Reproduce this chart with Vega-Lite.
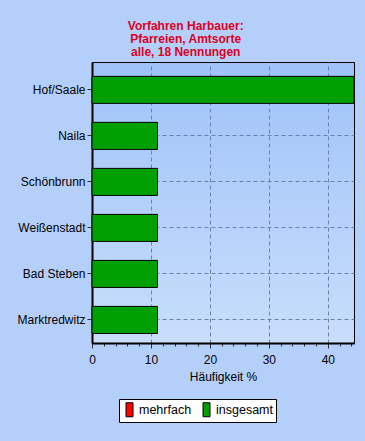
{
  "$schema": "https://vega.github.io/schema/vega-lite/v6.json",
  "width": 262,
  "height": 281,
  "autosize": {"type": "none"},
  "padding": {"left": 92, "top": 62, "right": 11, "bottom": 98},
  "background": "#b4d0fa",
  "view": {
    "stroke": "black",
    "strokeWidth": 1,
    "fill": {
      "gradient": "linear", "x1": 0, "y1": 0, "x2": 0, "y2": 1,
      "stops": [{"offset": 0, "color": "#9fc2f9"}, {"offset": 1, "color": "#c8defb"}]
    }
  },
  "title": {
    "text": ["Vorfahren Harbauer:", "Pfarreien, Amtsorte", "alle, 18 Nennungen"],
    "color": "#dd0022",
    "font": "Liberation Sans",
    "fontSize": 12,
    "fontWeight": "bold",
    "lineHeight": 13,
    "offset": 3,
    "anchor": "middle",
    "frame": "bounds"
  },
  "data": {
    "values": [
      {"ort": "Hof/Saale", "pct": 44.44, "serie": "insgesamt"},
      {"ort": "Naila", "pct": 11.11, "serie": "insgesamt"},
      {"ort": "Schönbrunn", "pct": 11.11, "serie": "insgesamt"},
      {"ort": "Weißenstadt", "pct": 11.11, "serie": "insgesamt"},
      {"ort": "Bad Steben", "pct": 11.11, "serie": "insgesamt"},
      {"ort": "Marktredwitz", "pct": 11.11, "serie": "insgesamt"}
    ]
  },
  "mark": {"type": "bar", "stroke": "black", "strokeWidth": 1},
  "encoding": {
    "y": {
      "field": "ort",
      "type": "nominal",
      "sort": null,
      "scale": {"paddingInner": 0.413, "paddingOuter": 0.26, "align": 0.6},
      "axis": {
        "title": null,
        "labelFont": "Liberation Sans",
        "labelFontSize": 12,
        "labelColor": "black",
        "labelPadding": 2,
        "tickSize": 5,
        "tickColor": "#333333",
        "domainColor": "black",
        "domainWidth": 2,
        "grid": true,
        "gridColor": "#6a80b0",
        "gridDash": [4, 3],
        "gridWidth": 1,
        "bandPosition": 0.5
      }
    },
    "x": {
      "field": "pct",
      "type": "quantitative",
      "scale": {"domain": [0, 44.44], "nice": false},
      "axis": {
        "title": "Häufigkeit %",
        "titleFont": "Liberation Sans",
        "titleFontSize": 12,
        "titleFontWeight": "normal",
        "titleColor": "black",
        "titlePadding": 6,
        "values": [0, 2, 4, 6, 8, 10, 12, 14, 16, 18, 20, 22, 24, 26, 28, 30, 32, 34, 36, 38, 40, 42, 44],
        "labelExpr": "datum.value % 10 === 0 ? datum.label : ''",
        "labelOverlap": false,
        "labelFlush": false,
        "labelFont": "Liberation Sans",
        "labelFontSize": 12,
        "labelColor": "black",
        "labelPadding": 6,
        "tickSize": {"condition": {"test": "datum.value % 10 === 0", "value": 5}, "value": 3},
        "tickColor": "#333333",
        "domainColor": "black",
        "domainWidth": 2,
        "grid": true,
        "gridColor": "#6a80b0",
        "gridDash": [4, 3],
        "gridWidth": 1,
        "gridOpacity": {"condition": {"test": "datum.value % 10 === 0 && datum.value > 0", "value": 1}, "value": 0}
      }
    },
    "color": {
      "field": "serie",
      "type": "nominal",
      "scale": {"domain": ["mehrfach", "insgesamt"], "range": ["#ff0000", "#00a000"]},
      "legend": {
        "title": null,
        "orient": "none",
        "direction": "horizontal",
        "legendX": 27,
        "legendY": 337,
        "fillColor": "white",
        "strokeColor": "black",
        "padding": 3,
        "columnPadding": 7,
        "symbolType": "M-0.5,-1H0.5V1H-0.5Z",
        "symbolSize": 196,
        "symbolStrokeColor": "black",
        "symbolStrokeWidth": 1,
        "symbolOpacity": 1,
        "labelFont": "Liberation Sans",
        "labelFontSize": 12.5,
        "labelColor": "black",
        "labelOffset": 2
      }
    }
  }
}
